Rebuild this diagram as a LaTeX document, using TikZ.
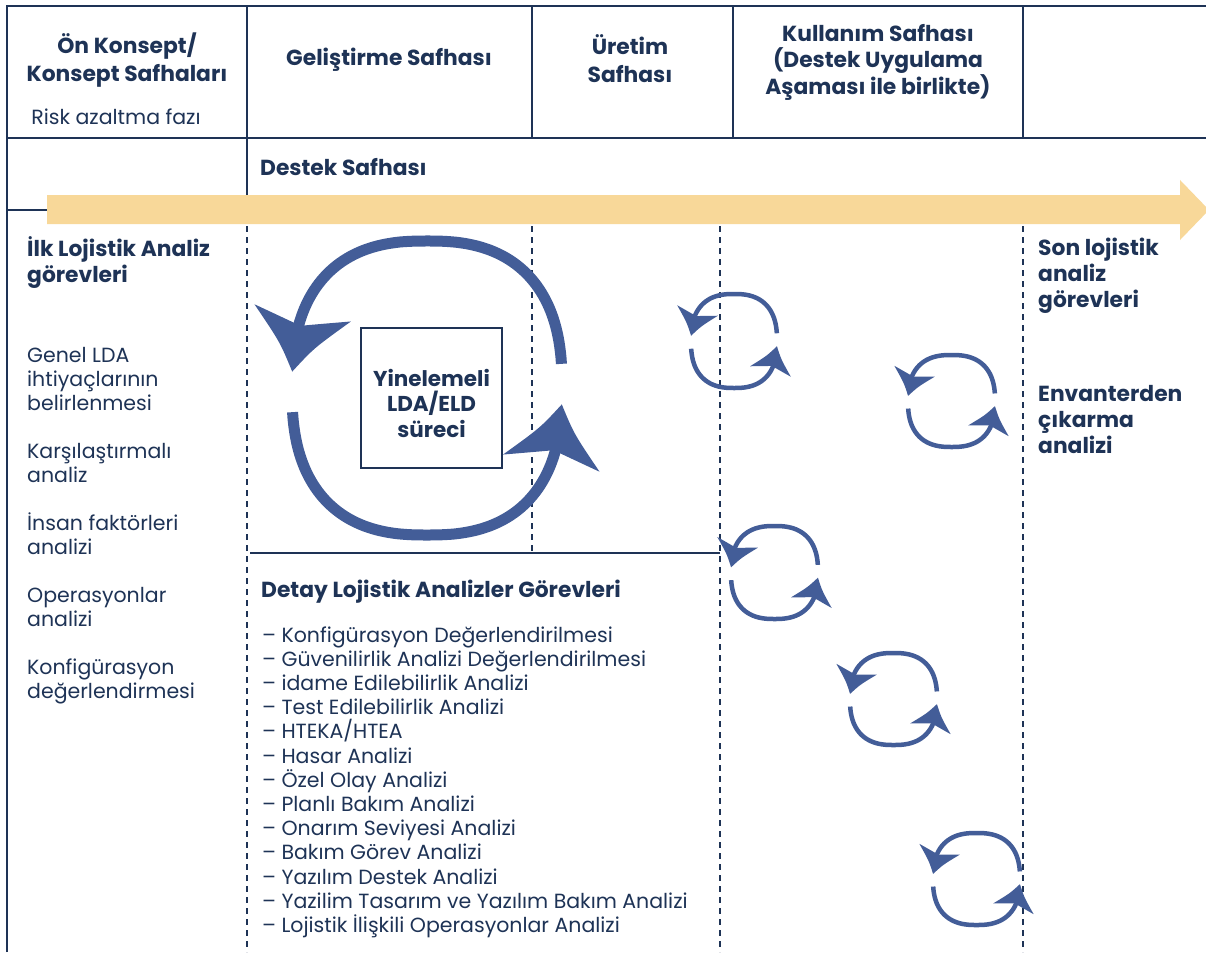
\documentclass[tikz,border=0pt]{standalone}
\usepackage{fontspec}
\setmainfont{Poppins}
\usetikzlibrary{calc}
\definecolor{navy}{HTML}{1E3356}
\definecolor{loopblue}{HTML}{435D98}
\definecolor{band}{HTML}{F8D899}

% swept arrow head on a rounded loop: base angle #1, tip angle #2
\newcommand{\spinhead}[2]{%
  \coordinate (hM) at ({\cx+\rx*supx(#1)},{\cy-\ry*supy(#1)});
  \coordinate (hT) at ({\cx+\rx*supx(#2)},{\cy-\ry*supy(#2)});
  \coordinate (hA) at ($(hM)!\hw pt!90:(hT)$);
  \coordinate (hB) at ($(hM)!\hw pt!-90:(hT)$);
  \coordinate (hN) at ($(hM)!0.22!(hT)$);
  \coordinate (hX) at ($(hM)!0.55!(hT)$);
  \coordinate (hY) at ($(hM)!0.12!(hT)$);
  \coordinate (hAc) at ($(hX)!0.35*\hw pt!-90:(hM)$);
  \coordinate (hBc) at ($(hX)!0.35*\hw pt!90:(hM)$);
  \coordinate (hAb) at ($(hY)!0.45*\hw pt!-90:(hM)$);
  \coordinate (hBb) at ($(hY)!0.45*\hw pt!90:(hM)$);
  \fill[loopblue] (hA) .. controls (hAc) .. (hT) .. controls (hBc) .. (hB)
     .. controls (hBb) .. (hN) .. controls (hAb) .. (hA) -- cycle;
}

% two-arrow loop: centre (#1,#2), radii #3,#4, stroke #5, head half width #6, head span #7 (deg)
\newcommand{\spinloop}[7]{%
  \pgfmathsetmacro\cx{#1}\pgfmathsetmacro\cy{#2}%
  \pgfmathsetmacro\rx{#3}\pgfmathsetmacro\ry{#4}%
  \pgfmathsetmacro\hw{#6}%
  \pgfmathsetmacro\bA{176.4-#7}\pgfmathsetmacro\eA{176.4-0.6*#7}%
  \pgfmathsetmacro\bB{356.4-#7}\pgfmathsetmacro\eB{356.4-0.6*#7}%
  \draw[loopblue,line width=#5pt] plot[smooth,domain=6:\eA,samples=80,variable=\t]
     ({\cx+\rx*supx(\t)},{\cy-\ry*supy(\t)});
  \draw[loopblue,line width=#5pt] plot[smooth,domain=186:\eB,samples=80,variable=\t]
     ({\cx+\rx*supx(\t)},{\cy-\ry*supy(\t)});
  \spinhead{\bA}{176.4}%
  \spinhead{\bB}{356.4}%
}

\begin{document}
\begin{tikzpicture}[x=1pt,y=-1pt,
  declare function={
    supx(\t)=ifthenelse(cos(\t)<0,-1,1)*pow(abs(cos(\t))+0.00001,0.8);
    supy(\t)=ifthenelse(sin(\t)<0,-1,1)*pow(abs(sin(\t))+0.00001,0.8);
  },
  frame/.style={draw=navy,line width=1.6pt},
  guide/.style={draw=navy,line width=1.4pt,dash pattern=on 6pt off 5pt},
  phase/.style={font=\bfseries\fontsize{21.8}{28}\selectfont,text=navy,align=center,inner sep=0pt},
  lbl/.style={font=\fontsize{20.5}{24}\selectfont,text=navy,anchor=base west,inner sep=0pt},
  blbl/.style={font=\bfseries\fontsize{21.8}{26}\selectfont,text=navy,anchor=base west,inner sep=0pt},
]
\useasboundingbox[fill=white] (0,0) rectangle (1206,952);

% table frame
\draw[frame] (7,952) -- (7,6) -- (1206,6);
\draw[frame] (7,138) -- (1206,138);
\foreach \x in {247,532,733,1023} \draw[frame] (\x,6) -- (\x,138);
\draw[frame] (247,138) -- (247,196);
\draw[frame] (7,210) -- (48,210);

% timeline band
\fill[band] (47,195) -- (1180,195) -- (1180,180) -- (1209,210) -- (1180,240)
  -- (1180,224) -- (47,224) -- cycle;

% phase guides
\draw[guide] (247,226) -- (247,952);
\draw[guide] (532,226) -- (532,553);
\draw[guide] (720,226) -- (720,952);
\draw[guide] (1023,226) -- (1023,952);
\draw[navy,line width=1.4pt] (250,553) -- (720,553);

% header
\node[phase] (ph1) at (127,60) {Ön Konsept/\\Konsept Safhaları};
\node[lbl,anchor=center] (risk) at (116,117) {Risk azaltma fazı};
\node[phase] (ph2) at (389,60) {Geliştirme Safhası};
\node[phase] (ph3) at (630,59) {Üretim\\Safhası};
\node[phase,font=\bfseries\fontsize{21.8}{26.5}\selectfont] (ph4) at (878,62)
  {Kullanım Safhası\\(Destek Uygulama\\Aşaması ile birlikte)};
\node[phase,anchor=west] (dest) at (260,167) {Destek Safhası};

% initial analyses
\node[blbl] (ilkA) at (27,256) {İlk Lojistik Analiz};
\node[blbl] (ilkB) at (27,282) {görevleri};
\foreach \k/\t in {0/Genel LDA,1/ihtiyaçlarının,2/belirlenmesi,4/Karşılaştırmalı,5/analiz,
  7/İnsan faktörleri,8/analizi,10/Operasyonlar,11/analizi,13/Konfigürasyon,14/değerlendirmesi}
  \node[lbl] (ilk-\k) at (27,{362+24*\k}) {\t};

% final analyses
\foreach \k/\t in {0/Son lojistik,1/analiz,2/görevleri}
  \node[blbl] (son-\k) at (1038,{255+26*\k}) {\t};
\foreach \k/\t in {0/Envanterden,1/çıkarma,2/analizi}
  \node[blbl] (env-\k) at (1038,{401+26*\k}) {\t};

% detailed analyses
\node[blbl] (detay) at (261,597) {Detay Lojistik Analizler Görevleri};
\foreach \k/\t in {0/Konfigürasyon Değerlendirilmesi,1/Güvenilirlik Analizi Değerlendirilmesi,
  2/idame Edilebilirlik Analizi,3/Test Edilebilirlik Analizi,4/{HTEKA/HTEA},5/Hasar Analizi,
  6/Özel Olay Analizi,7/Planlı Bakım Analizi,8/Onarım Seviyesi Analizi,9/Bakım Görev Analizi,
  10/Yazılım Destek Analizi,11/Yazilim Tasarım ve Yazılım Bakım Analizi,
  12/Lojistik İlişkili Operasyonlar Analizi}
  \node[lbl] (det-\k) at (262,{642+24.2*\k}) {– \t};

% iterative process
\node[draw=navy,line width=1.4pt,minimum width=141pt,minimum height=140pt,inner sep=0pt]
  (box) at (431.5,398) {};
\node[phase,font=\bfseries\fontsize{21.5}{25.5}\selectfont] (boxtxt) at (431.5,403)
  {Yinelemeli\\LDA/ELD\\süreci};
\spinloop{427}{388}{135}{147}{11}{49}{22}

% recurring loops
\spinloop{734}{341}{43}{47}{4.5}{21}{32}
\spinloop{951.5}{401}{43.5}{46}{4.5}{21}{32}
\spinloop{774.5}{572.5}{43.5}{46.5}{4.5}{21}{32}
\spinloop{893.5}{699}{43.5}{46}{4.5}{21}{32}
\spinloop{976.5}{879}{43.5}{46}{4.5}{21}{32}
\end{tikzpicture}
\end{document}
